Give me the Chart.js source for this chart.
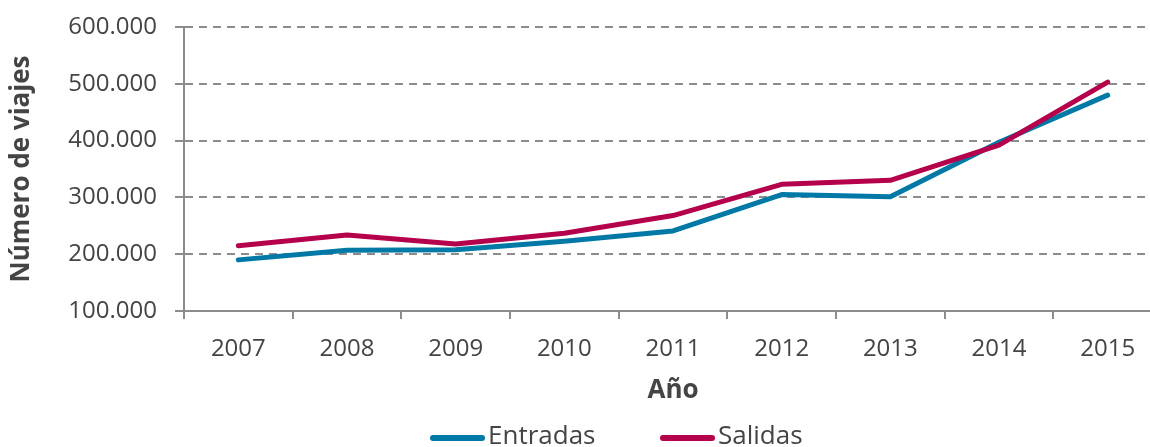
<!DOCTYPE html>
<html>
<head>
<meta charset="utf-8">
<script src="https://cdn.jsdelivr.net/npm/chart.js@4"></script>
<style>
  html, body { margin: 0; padding: 0; background: #fff; overflow: hidden; }
  #wrap { width: 1150px; height: 447px; overflow: hidden; position: relative; }
  #wrap canvas { position: absolute; left: 0; top: 0; }
</style>
</head>
<body>
<div id="wrap"><canvas id="myChart" width="1170" height="447" style="width:1170px;height:447px"></canvas></div>
<script>
let years = ['2007', '2008', '2009', '2010', '2011', '2012', '2013', '2014', '2015'];
let entradas = [190000, 207000, 208000, 223000, 241000, 305000, 301000, 397000, 480000];
let salidas = [215000, 234000, 218000, 237000, 268000, 323000, 330000, 392000, 503000];
let colorEntradas = '#0079a6';
let colorSalidas = '#b5004b';

let textColor = '#444';
let gridColor = '#8c8c8c';

function miles(v) {
  return String(v).replace(/\B(?=(\d{3})+(?!\d))/g, '.');
}

// leyenda dibujada a mano, con la linea pegada al texto
let legendPlugin = {
  id: 'lineLegend',
  afterDraw(chart) {
    let ctx = chart.ctx;
    let items = [
      { label: 'Entradas', color: colorEntradas, x: 430 },
      { label: 'Salidas', color: colorSalidas, x: 660 }
    ];
    let y = 438;
    ctx.save();
    items.forEach(it => {
      ctx.strokeStyle = it.color;
      ctx.lineWidth = 6;
      ctx.lineCap = 'round';
      ctx.beginPath();
      ctx.moveTo(it.x + 3, y);
      ctx.lineTo(it.x + 52, y);
      ctx.stroke();
      ctx.fillStyle = textColor;
      ctx.font = '26px "Open Sans"';
      ctx.textBaseline = 'middle';
      ctx.fillText(it.label, it.x + 58, y - 1);
    });
    ctx.restore();
  }
};

let ctx = document.getElementById('myChart').getContext('2d');

let myChart = new Chart(ctx, {
  type: 'line',
  data: {
    labels: years,
    datasets: [{
      label: 'Entradas',
      data: entradas,
      borderColor: colorEntradas,
      backgroundColor: colorEntradas,
      order: 1
    }, {
      label: 'Salidas',
      data: salidas,
      borderColor: colorSalidas,
      backgroundColor: colorSalidas,
      order: 0
    }]
  },
  options: {
    responsive: false,
    animation: false,
    layout: {
      padding: { top: 27, right: 8, bottom: 41, left: 0 }
    },
    elements: {
      line: { borderWidth: 5, tension: 0, borderCapStyle: 'round', borderJoinStyle: 'round' },
      point: { radius: 0, hoverRadius: 0 }
    },
    plugins: {
      legend: { display: false },
      tooltip: { enabled: false }
    },
    scales: {
      x: {
        offset: true,
        grid: {
          offset: true,
          drawOnChartArea: false,
          drawTicks: true,
          tickLength: 8,
          color: gridColor,
          lineWidth: 2
        },
        border: { display: true, color: gridColor, width: 2 },
        ticks: {
          color: textColor,
          padding: 16,
          font: { family: 'Open Sans', size: 24 }
        },
        title: {
          display: true,
          text: 'Año',
          color: textColor,
          padding: { top: -5, bottom: 0 },
          font: { family: 'Open Sans', size: 26, weight: 'bold' }
        }
      },
      y: {
        min: 100000,
        max: 600000,
        afterFit: (scale) => { scale.width = 184; scale.paddingTop = 0; },
        grid: {
          color: gridColor,
          lineWidth: 2,
          tickLength: 9,
          tickBorderDash: [],
          drawTicks: true
        },
        border: { display: true, color: gridColor, width: 2, dash: [8, 6] },
        ticks: {
          stepSize: 100000,
          color: textColor,
          padding: 18,
          font: { family: 'Open Sans', size: 24 },
          callback: (value) => miles(value)
        },
        title: {
          display: true,
          text: 'Número de viajes',
          color: textColor,
          padding: { top: 6, bottom: 0 },
          font: { family: 'Open Sans', size: 26, weight: 'bold' }
        }
      }
    }
  },
  plugins: [legendPlugin]
});
</script>
</body>
</html>
